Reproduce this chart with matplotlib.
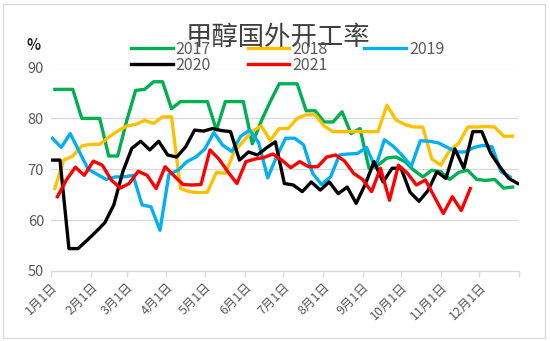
import matplotlib
matplotlib.use('Agg')
import matplotlib.pyplot as plt
import numpy as np
from matplotlib.patches import Rectangle

plt.rcParams['font.family'] = ['Noto Sans CJK SC', 'DejaVu Sans']

# ---------------- data ----------------
years = ['2017', '2018', '2019', '2020', '2021']
series_colors = ['#00B050', '#FFC000', '#00B0F0', '#000000', '#FF0000']
# day-of-year of each year's first weekly reading
start_days = [3, 3, 1, 0, 5]

rate_2017 = [85.7, 85.7, 85.7, 80.0, 80.0, 80.0, 72.6, 72.6, 79.5, 85.5,
             85.7, 87.2, 87.2, 81.9, 83.3, 83.3, 83.3, 83.3, 77.7, 83.3,
             83.3, 83.3, 75.0, 79.5, 83.3, 86.8, 86.8, 86.8, 81.5, 81.5,
             79.3, 79.3, 81.3, 77.0, 78.0, 70.2, 70.8, 72.2, 72.4, 71.5,
             69.8, 68.5, 69.8, 69.5, 68.0, 69.4, 69.8, 68.0, 67.8, 68.0,
             66.3, 66.5]
rate_2018 = [66.2, 71.8, 72.6, 74.6, 74.9, 74.9, 76.3, 77.5, 78.5, 78.8,
             79.6, 79.0, 80.3, 80.3, 66.2, 65.6, 65.4, 65.5, 69.4, 69.2,
             73.5, 75.5, 77.5, 78.5, 75.7, 78.0, 78.0, 80.0, 80.7, 80.7,
             78.5, 77.4, 77.4, 77.4, 77.4, 77.4, 77.4, 82.6, 79.7, 78.8,
             78.3, 78.3, 72.0, 70.8, 73.7, 75.1, 78.3, 78.3, 78.4, 78.3,
             76.5, 76.5]
rate_2019 = [76.1, 74.3, 77.0, 73.5, 70.0, 69.0, 68.0, 68.5, 68.5, 68.8,
             63.0, 62.6, 58.0, 69.0, 69.8, 71.5, 72.4, 74.0, 77.2, 74.7,
             73.5, 76.5, 77.7, 75.2, 68.3, 72.5, 76.1, 76.1, 74.8, 69.2,
             67.0, 68.5, 72.8, 73.0, 73.1, 74.3, 70.3, 75.8, 74.5, 72.7,
             70.6, 75.6, 75.5, 75.2, 74.3, 73.4, 73.4, 74.3, 74.7, 74.4,
             69.5, 68.5]
rate_2020 = [71.8, 71.8, 54.4, 54.4, 56.0, 57.7, 59.5, 63.0, 69.5, 74.1,
             75.5, 73.8, 75.5, 72.8, 72.4, 74.4, 77.7, 77.5, 78.0, 77.6,
             77.4, 71.8, 73.4, 72.8, 74.2, 75.4, 67.2, 66.9, 65.6, 67.5,
             65.9, 67.5, 65.2, 66.5, 63.3, 67.0, 71.5, 67.5, 70.2, 70.2,
             65.5, 63.7, 65.8, 69.5, 68.2, 74.0, 70.2, 77.4, 77.4, 73.1,
             70.5, 68.2, 67.2]
rate_2021 = [64.6, 67.9, 70.4, 68.8, 71.6, 70.8, 67.9, 66.3, 67.2, 69.6,
             68.8, 66.2, 70.5, 68.7, 67.0, 66.9, 67.0, 73.8, 72.0, 69.5,
             67.2, 71.5, 72.0, 72.3, 73.0, 71.8, 70.3, 71.5, 70.5, 70.5,
             72.4, 72.8, 71.6, 69.2, 68.0, 65.6, 70.2, 63.9, 70.8, 69.2,
             66.9, 67.9, 64.6, 61.3, 64.6, 61.9, 66.2]
all_rates = [rate_2017, rate_2018, rate_2019, rate_2020, rate_2021]

month_start_days = [0, 31, 59, 90, 120, 151, 181, 212, 243, 273, 304, 334]
month_labels = ['1月1日', '2月1日', '3月1日', '4月1日', '5月1日', '6月1日',
                '7月1日', '8月1日', '9月1日', '10月1日', '11月1日', '12月1日']
y_ticks = [50, 60, 70, 80, 90]
title = '甲醇国外开工率'

# ---------------- figure ----------------
W, H = 550, 341
fig = plt.figure(figsize=(W / 100, H / 100), dpi=100)
ax = fig.add_axes([51 / W, 1 - 271 / H, (519 - 51) / W, (271 - 67.5) / H])

grid_c = '#D9D9D9'
text_c = '#595959'

lines = {}
for yr, col, sd, vals in zip(years, series_colors, start_days, all_rates):
    days = sd + 7 * np.arange(len(vals))
    ln, = ax.plot(days, vals, color=col, lw=2.4, label=yr,
                  solid_joinstyle='round')
    lines[yr] = ln

ax.set_xlim(0, 365)
ax.set_ylim(50, 90)
ax.set_yticks(y_ticks)
ax.yaxis.grid(True, color=grid_c, lw=0.9)
ax.set_axisbelow(True)
ax.tick_params(axis='y', length=0, pad=5, labelsize=10.5, labelcolor=text_c)

ax.set_xticks(month_start_days + [365])
ax.set_xticklabels(month_labels + [''], rotation=45, ha='right', va='top',
                   rotation_mode='anchor', fontsize=9, color=text_c)
ax.tick_params(axis='x', length=4, width=0.9, color=grid_c, pad=3)

for s in ['left', 'right', 'top']:
    ax.spines[s].set_visible(False)
ax.spines['bottom'].set_color(grid_c)
ax.spines['bottom'].set_linewidth(0.9)

ax.text(34 / W, 1 - 45 / H, '%', transform=fig.transFigure, ha='center',
        va='center', fontsize=10.5, fontweight='bold', color='#262626')

# legend: rows 2017 2018 2019 / 2020 2021 (matplotlib fills by column)
leg_order = ['2017', '2020', '2018', '2021', '2019']
leg = fig.legend([lines[y] for y in leg_order], leg_order,
                 loc='upper left', bbox_to_anchor=(131 / W, 1 - 40.5 / H),
                 ncol=3, frameon=False, fontsize=11.5, handlelength=2.6,
                 handletextpad=0.2, columnspacing=2.3, labelspacing=-0.05,
                 borderpad=0, borderaxespad=0)
for t in leg.get_texts():
    t.set_color(text_c)

fig.text(278 / W, 1 - 37.5 / H, title, ha='center', va='center',
         fontsize=19, fontweight='light', color='#404040', zorder=5)

fig.patches.append(Rectangle((3 / W, 3 / H), 542 / W, 334 / H,
                             transform=fig.transFigure, fill=False,
                             edgecolor=grid_c, lw=0.9))

fig.savefig('out.png', dpi=100)
